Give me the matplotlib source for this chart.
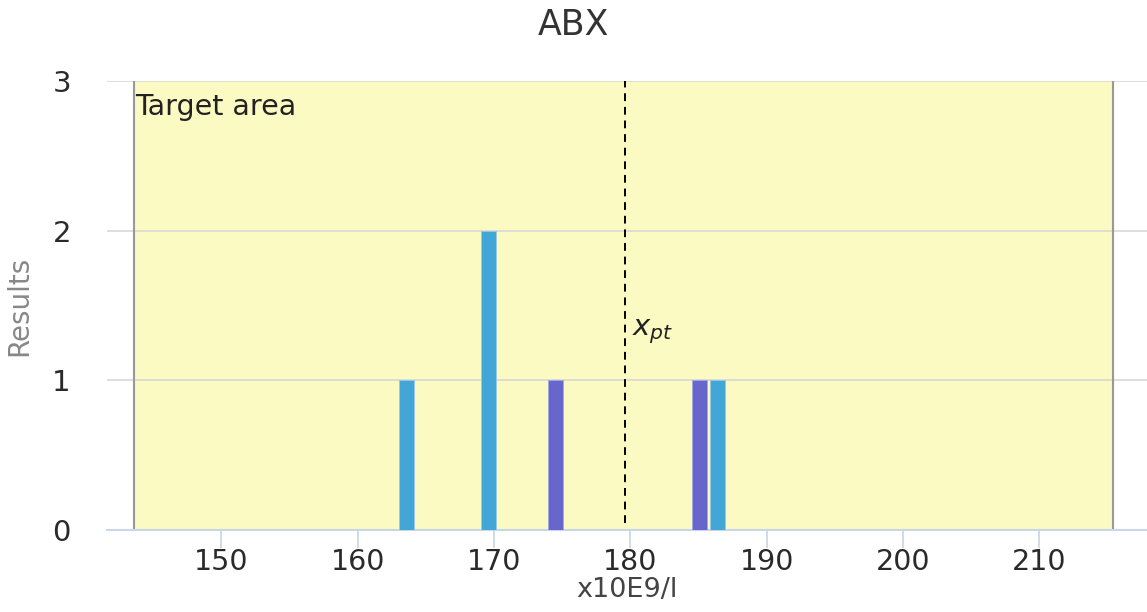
import matplotlib
matplotlib.use("Agg")
import matplotlib.pyplot as plt

# Data
title = "ABX"
x_label = "x10E9/l"
y_label = "Results"
x_ticks = [150, 160, 170, 180, 190, 200, 210]
y_ticks = [0, 1, 2, 3]
blue_x = [163.6, 169.6, 186.4]
blue_counts = [1, 2, 1]
purple_x = [174.5, 185.1]
purple_counts = [1, 1]
target_low = 143.6
target_high = 215.4
x_pt = 179.6

plt.rcParams['font.family'] = ['DejaVu Sans']

fig = plt.figure(figsize=(11.47, 6.12), dpi=100)
ax = fig.add_axes([107/1147, 82/612, 1 - 107/1147, (530-81)/612])

ax.set_xlim(141.6, 217.9)
ax.set_ylim(0, 3)

ax.axvspan(target_low, target_high, color='#FAFAC2', zorder=0)
ax.axvline(target_low, color='#999999', lw=1.5, zorder=1)
ax.axvline(target_high, color='#999999', lw=1.5, zorder=1)

ax.set_axisbelow(True)
ax.yaxis.grid(True, color='#D8D8D8', lw=1.2, zorder=1)

bw = 1.1
ax.bar(blue_x, blue_counts, width=bw, color='#42A7D6', edgecolor='#9CC7E6', lw=0.6, zorder=3)
ax.bar(purple_x, purple_counts, width=bw, color='#6666CC', edgecolor='#A0A8E0', lw=0.6, zorder=3)

ax.axvline(x_pt, ymin=0.015, ymax=1, color='black', lw=1.4, ls=(0, (4, 3)), zorder=4)
ax.text(x_pt + 0.55, 1.3, r'$x_{pt}$', fontsize=21, color='#222222', zorder=5)
ax.text(target_low + 0.1, 2.77, 'Target area', fontsize=20.5, color='#222222', zorder=5)

for s in ['top', 'right', 'left']:
    ax.spines[s].set_visible(False)
ax.spines['bottom'].set_color('#C8D6E8')
ax.spines['bottom'].set_linewidth(1.5)

ax.set_xticks(x_ticks)
ax.set_yticks(y_ticks)
ax.tick_params(axis='x', length=13, width=1.2, color='#C8D6E8', labelsize=20.5, labelcolor='#2A2A2A', pad=0)
ax.tick_params(axis='y', length=0, labelsize=21, labelcolor='#2A2A2A', pad=26)

ax.set_xlabel(x_label, fontsize=19.5, color='#444444', labelpad=1)
ax.set_ylabel(y_label, fontsize=20, color='#888888', labelpad=14)

fig.text(0.5, 1 - 25/612, title, ha='center', va='center', fontsize=25, color='#333333')

fig.savefig('out.png', dpi=100)
